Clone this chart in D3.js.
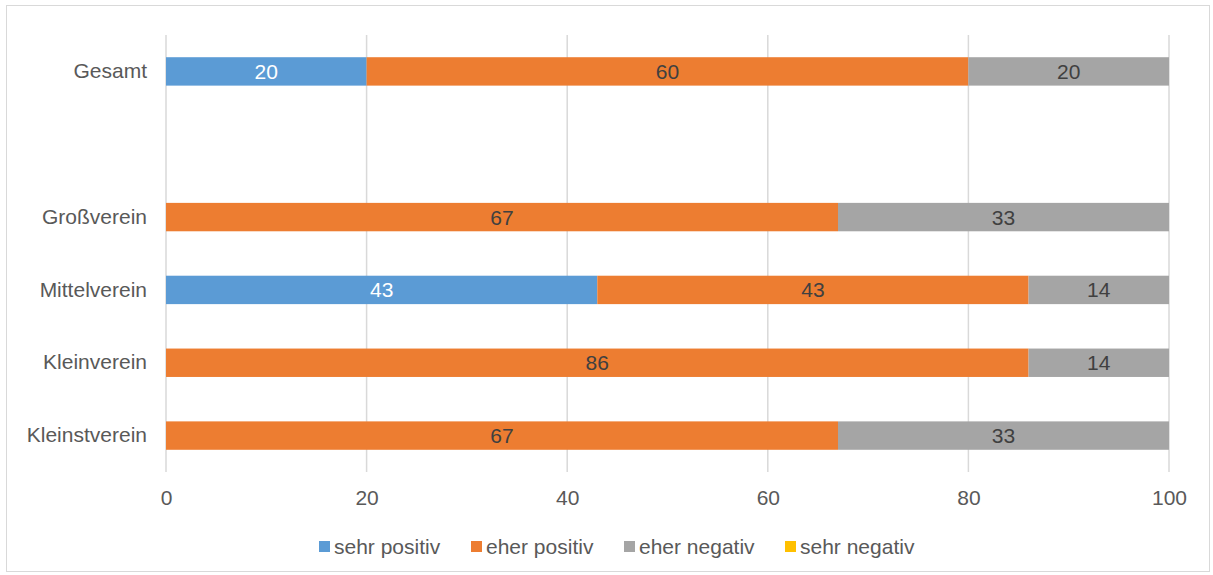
<!DOCTYPE html>
<html><head><meta charset="utf-8">
<script src="https://cdn.jsdelivr.net/npm/d3@7"></script>
<style>html,body{margin:0;padding:0;background:#fff;}</style>
</head><body>
<svg id="chart" width="1213" height="575"></svg>
<script>
const categories = ["Gesamt", "", "Großverein", "Mittelverein", "Kleinverein", "Kleinstverein"];
const seriesNames = ["sehr positiv", "eher positiv", "eher negativ", "sehr negativ"];
const sehrPositiv  = [20, null, 0, 43, 0, 0];
const eherPositiv  = [60, null, 67, 43, 86, 67];
const eherNegativ  = [20, null, 33, 14, 14, 33];
const sehrNegativ  = [0, null, 0, 0, 0, 0];
const xTicks = [0, 20, 40, 60, 80, 100];
const colors = ["#5B9BD5", "#ED7D31", "#A5A5A5", "#FFC000"];
const labelColors = ["#ffffff", "#404040", "#404040", "#404040"];

(function () {
const svg = d3.select("#chart");
const font = "'Liberation Sans', Arial, sans-serif";
const fs = 21;

svg.append("rect").attr("x", 6.5).attr("y", 5.5).attr("width", 1203).attr("height", 566)
  .attr("fill", "#fff").attr("stroke", "#d9d9d9").attr("stroke-width", 1);

const mLeft = 166, mRight = 1169, mTop = 35, mBottom = 472;
const x = d3.scaleLinear().domain([0, 100]).range([mLeft, mRight]);
const y = d3.scaleBand().domain(d3.range(categories.length)).range([mTop, mBottom]).paddingInner(0.61).paddingOuter(0.305);

// gridlines
svg.append("g").selectAll("line").data(xTicks).join("line")
  .attr("x1", d => x(d)).attr("x2", d => x(d)).attr("y1", mTop).attr("y2", mBottom)
  .attr("stroke", "#d9d9d9").attr("stroke-width", 1.5);

// x axis tick labels
const xAxis = d3.axisBottom(x).tickValues(xTicks).tickSize(0).tickPadding(0);
const gx = svg.append("g").attr("transform", `translate(0,${mBottom + 18})`).call(xAxis);
gx.select(".domain").remove();
gx.selectAll("text").attr("font-family", font).attr("font-size", fs).attr("fill", "#595959").attr("dy", "0.71em");

// category labels
const yAxis = d3.axisLeft(y).tickFormat(i => categories[i]).tickSize(0).tickPadding(19);
const gy = svg.append("g").attr("transform", `translate(${mLeft},0)`).call(yAxis);
gy.select(".domain").remove();
gy.selectAll("text").attr("font-family", font).attr("font-size", fs).attr("fill", "#595959");

// stacked data
const seriesVals = [sehrPositiv, eherPositiv, eherNegativ, sehrNegativ];
const rows = categories.map((c, i) => {
  const o = { idx: i };
  seriesNames.forEach((s, k) => o[s] = seriesVals[k][i] || 0);
  return o;
}).filter((d, i) => seriesVals[1][i] !== null);
const stack = d3.stack().keys(seriesNames)(rows);

stack.forEach((layer, k) => {
  const g = svg.append("g");
  const segs = layer.filter(d => d[1] - d[0] > 0);
  g.selectAll("rect").data(segs).join("rect")
    .attr("x", d => x(d[0])).attr("width", d => x(d[1]) - x(d[0]))
    .attr("y", d => y(d.data.idx)).attr("height", y.bandwidth())
    .attr("fill", colors[k]);
  g.selectAll("text").data(segs).join("text")
    .attr("x", d => (x(d[0]) + x(d[1])) / 2).attr("y", d => y(d.data.idx) + y.bandwidth() / 2)
    .attr("dy", "0.36em").attr("text-anchor", "middle")
    .attr("font-family", font).attr("font-size", fs).attr("fill", labelColors[k])
    .text(d => d[1] - d[0]);
});

// legend
const legendX = [319, 471, 624, 785];
const lg = svg.append("g");
seriesNames.forEach((s, k) => {
  lg.append("rect").attr("x", legendX[k]).attr("y", 541).attr("width", 11).attr("height", 11).attr("fill", colors[k]);
  lg.append("text").attr("x", legendX[k] + 15).attr("y", 546).attr("dy", "0.36em")
    .attr("font-family", font).attr("font-size", fs).attr("fill", "#595959").text(s);
});
})();
</script>
</body></html>
